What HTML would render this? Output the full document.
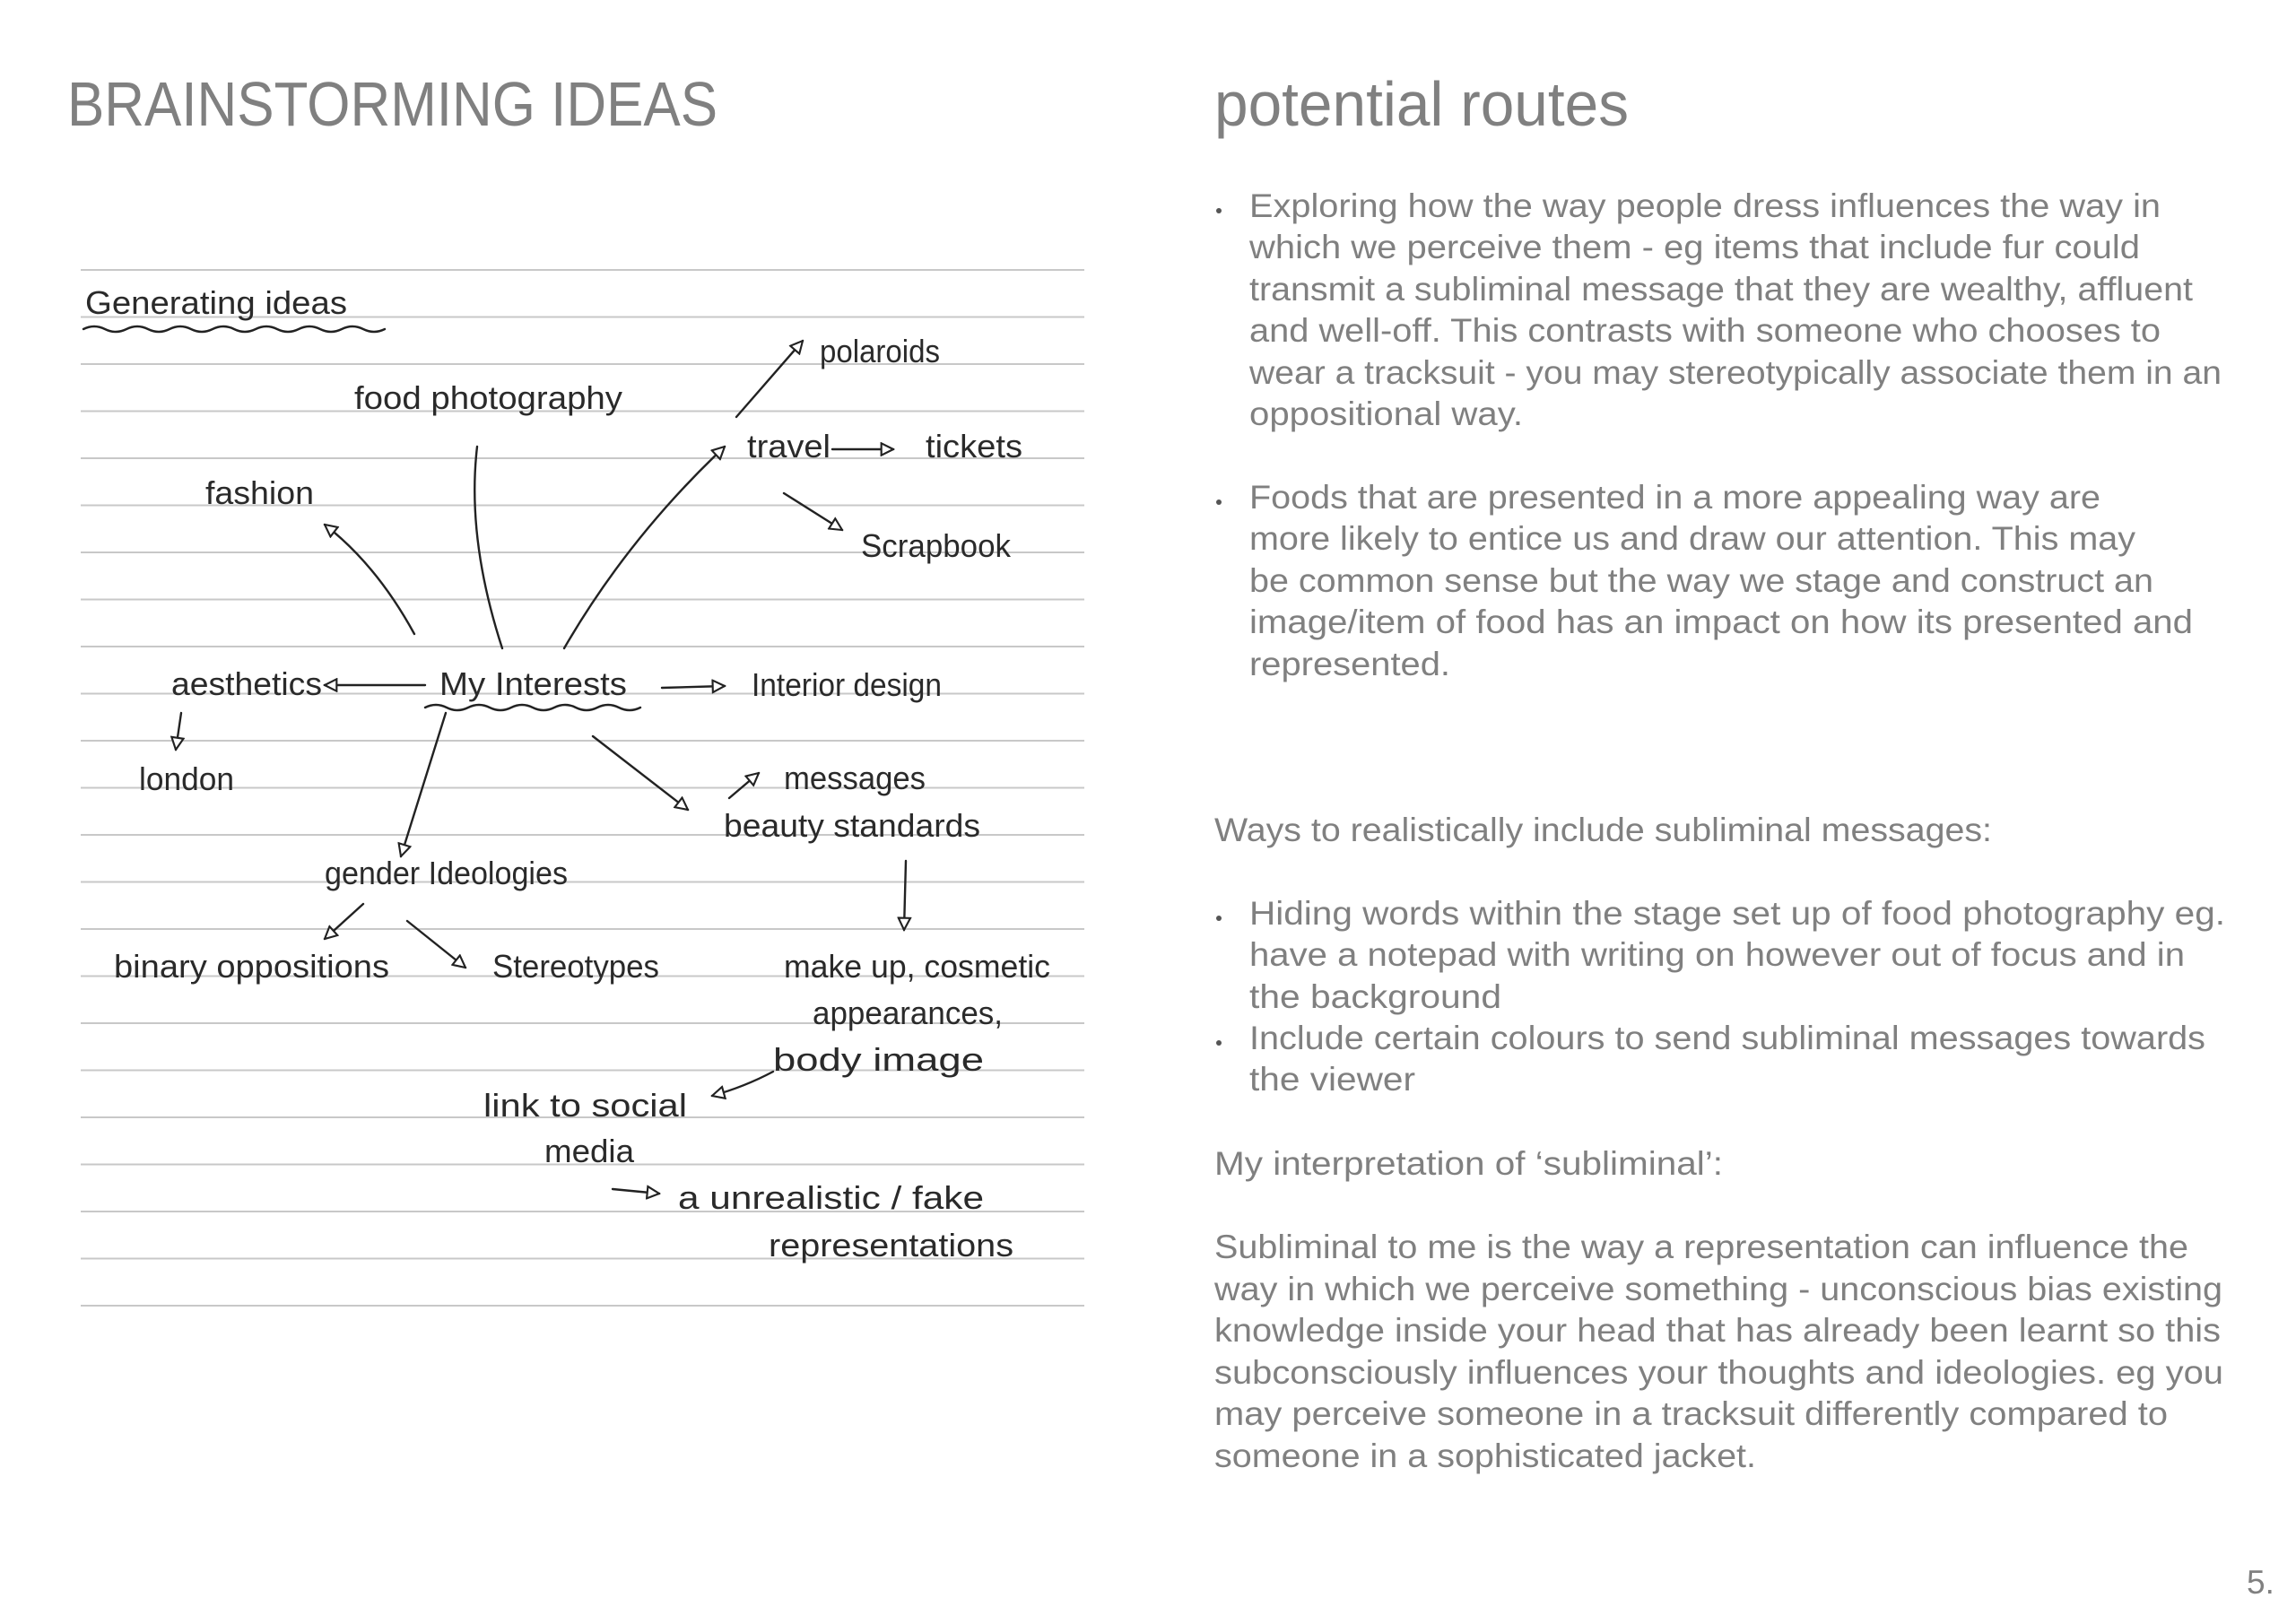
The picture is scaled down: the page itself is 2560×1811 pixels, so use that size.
<!DOCTYPE html>
<html><head><meta charset="utf-8"><style>
html,body{margin:0;padding:0;background:#fff}
svg{display:block}
.t{font-family:"Liberation Sans",sans-serif;fill:#808080;font-size:37px}
.h{font-family:"Liberation Sans",sans-serif;fill:#808080;font-size:70px}
.w{font-family:"Liberation Sans",sans-serif;fill:#2a2a2a;font-size:36px}
.ln{stroke:#c8c8c8;stroke-width:2}
.a{stroke:#222;stroke-width:2.4;fill:none;stroke-linecap:round}
</style></head><body>
<svg width="2560" height="1811" viewBox="0 0 2560 1811" xmlns="http://www.w3.org/2000/svg">
<defs>
<marker id="m" viewBox="0 0 12 12" refX="11" refY="6" markerWidth="16" markerHeight="16" markerUnits="userSpaceOnUse" orient="auto">
<path d="M1,1 L11,6 L1,11 Z" fill="#fff" stroke="#222" stroke-width="1.6"/>
</marker>
</defs>
<rect width="2560" height="1811" fill="#fff"/>
<text class="h" x="75" y="140" textLength="725" lengthAdjust="spacingAndGlyphs">BRAINSTORMING IDEAS</text>
<text class="h" x="1354" y="140" textLength="462" lengthAdjust="spacingAndGlyphs">potential routes</text>

<g class="ln">
<line x1="90" x2="1209" y1="301" y2="301"/><line x1="90" x2="1209" y1="353.5" y2="353.5"/><line x1="90" x2="1209" y1="406" y2="406"/><line x1="90" x2="1209" y1="458.5" y2="458.5"/><line x1="90" x2="1209" y1="511" y2="511"/><line x1="90" x2="1209" y1="563.5" y2="563.5"/><line x1="90" x2="1209" y1="616" y2="616"/><line x1="90" x2="1209" y1="668.5" y2="668.5"/><line x1="90" x2="1209" y1="721" y2="721"/><line x1="90" x2="1209" y1="773.5" y2="773.5"/><line x1="90" x2="1209" y1="826" y2="826"/><line x1="90" x2="1209" y1="878.5" y2="878.5"/><line x1="90" x2="1209" y1="931" y2="931"/><line x1="90" x2="1209" y1="983.5" y2="983.5"/><line x1="90" x2="1209" y1="1036" y2="1036"/><line x1="90" x2="1209" y1="1088.5" y2="1088.5"/><line x1="90" x2="1209" y1="1141" y2="1141"/><line x1="90" x2="1209" y1="1193.5" y2="1193.5"/><line x1="90" x2="1209" y1="1246" y2="1246"/><line x1="90" x2="1209" y1="1298.5" y2="1298.5"/><line x1="90" x2="1209" y1="1351" y2="1351"/><line x1="90" x2="1209" y1="1403.5" y2="1403.5"/><line x1="90" x2="1209" y1="1456" y2="1456"/>
</g>

<g class="w">
<text x="95" y="350" textLength="292" lengthAdjust="spacingAndGlyphs">Generating ideas</text>
<text x="395" y="456" textLength="299" lengthAdjust="spacingAndGlyphs">food photography</text>
<text x="914" y="404" textLength="134" lengthAdjust="spacingAndGlyphs">polaroids</text>
<text x="833" y="510" textLength="93" lengthAdjust="spacingAndGlyphs">travel</text>
<text x="1032" y="510" textLength="108" lengthAdjust="spacingAndGlyphs">tickets</text>
<text x="229" y="562" textLength="121" lengthAdjust="spacingAndGlyphs">fashion</text>
<text x="960" y="621" textLength="167" lengthAdjust="spacingAndGlyphs">Scrapbook</text>
<text x="191" y="775" textLength="168" lengthAdjust="spacingAndGlyphs">aesthetics</text>
<text x="490" y="775" textLength="209" lengthAdjust="spacingAndGlyphs">My Interests</text>
<text x="838" y="776" textLength="212" lengthAdjust="spacingAndGlyphs">Interior design</text>
<text x="155" y="881" textLength="106" lengthAdjust="spacingAndGlyphs">london</text>
<text x="874" y="880" textLength="158" lengthAdjust="spacingAndGlyphs">messages</text>
<text x="807" y="933" textLength="286" lengthAdjust="spacingAndGlyphs">beauty standards</text>
<text x="362" y="986" textLength="271" lengthAdjust="spacingAndGlyphs">gender Ideologies</text>
<text x="127" y="1090" textLength="307" lengthAdjust="spacingAndGlyphs">binary oppositions</text>
<text x="549" y="1090" textLength="186" lengthAdjust="spacingAndGlyphs">Stereotypes</text>
<text x="874" y="1090" textLength="297" lengthAdjust="spacingAndGlyphs">make up, cosmetic</text>
<text x="906" y="1142" textLength="212" lengthAdjust="spacingAndGlyphs">appearances,</text>
<text x="862" y="1194" textLength="235" lengthAdjust="spacingAndGlyphs">body image</text>
<text x="539" y="1245" textLength="227" lengthAdjust="spacingAndGlyphs">link to social</text>
<text x="607" y="1296" textLength="100" lengthAdjust="spacingAndGlyphs">media</text>
<text x="756" y="1348" textLength="341" lengthAdjust="spacingAndGlyphs">a unrealistic / fake</text>
<text x="857" y="1401" textLength="273" lengthAdjust="spacingAndGlyphs">representations</text>
</g>

<path class="a" d="M93,367 q12,-6 24,0 t24,0 t24,0 t24,0 t24,0 t24,0 t24,0 t24,0 t24,0 t24,0 t24,0 t24,0 t24,0 t24,0"/>
<path class="a" d="M474,789 q12,-6 24,0 t24,0 t24,0 t24,0 t24,0 t24,0 t24,0 t24,0 t24,0 t24,0"/>

<g class="a">
<path d="M462,707 Q420,630 362,585" marker-end="url(#m)"/>
<path d="M560,723 Q520,600 532,498"/>
<path d="M629,723 Q700,600 808,498" marker-end="url(#m)"/>
<path d="M821,465 L895,380" marker-end="url(#m)"/>
<path d="M928,501 L996,501" marker-end="url(#m)"/>
<path d="M874,550 L939,591" marker-end="url(#m)"/>
<path d="M474,764 L362,764" marker-end="url(#m)"/>
<path d="M202,795 L196,836" marker-end="url(#m)"/>
<path d="M738,767 L808,765" marker-end="url(#m)"/>
<path d="M661,821 L767,903" marker-end="url(#m)"/>
<path d="M813,890 L846,862" marker-end="url(#m)"/>
<path d="M497,795 L447,955" marker-end="url(#m)"/>
<path d="M405,1008 L362,1047" marker-end="url(#m)"/>
<path d="M454,1027 L519,1079" marker-end="url(#m)"/>
<path d="M1010,960 L1008,1037" marker-end="url(#m)"/>
<path d="M862,1195 Q830,1212 794,1222" marker-end="url(#m)"/>
<path d="M683,1326 L735,1331" marker-end="url(#m)"/>
</g>

<g class="t">
<circle cx="1359" cy="235" r="3" fill="#555"/>
<text x="1393" y="242" textLength="1016" lengthAdjust="spacingAndGlyphs">Exploring how the way people dress influences the way in</text>
<text x="1393" y="288" textLength="993" lengthAdjust="spacingAndGlyphs">which we perceive them - eg items that include fur could</text>
<text x="1393" y="335" textLength="1052" lengthAdjust="spacingAndGlyphs">transmit a subliminal message that they are wealthy, affluent</text>
<text x="1393" y="381" textLength="1016" lengthAdjust="spacingAndGlyphs">and well-off. This contrasts with someone who chooses to</text>
<text x="1393" y="428" textLength="1084" lengthAdjust="spacingAndGlyphs">wear a tracksuit - you may stereotypically associate them in an</text>
<text x="1393" y="474" textLength="305" lengthAdjust="spacingAndGlyphs">oppositional way.</text>

<circle cx="1359" cy="560" r="3" fill="#555"/>
<text x="1393" y="567" textLength="949" lengthAdjust="spacingAndGlyphs">Foods that are presented in a more appealing way are</text>
<text x="1393" y="613" textLength="988" lengthAdjust="spacingAndGlyphs">more likely to entice us and draw our attention. This may</text>
<text x="1393" y="660" textLength="1008" lengthAdjust="spacingAndGlyphs">be common sense but the way we stage and construct an</text>
<text x="1393" y="706" textLength="1052" lengthAdjust="spacingAndGlyphs">image/item of food has an impact on how its presented and</text>
<text x="1393" y="753" textLength="224" lengthAdjust="spacingAndGlyphs">represented.</text>

<text x="1354" y="938" textLength="867" lengthAdjust="spacingAndGlyphs">Ways to realistically include subliminal messages:</text>

<circle cx="1359" cy="1024" r="3" fill="#555"/>
<text x="1393" y="1031" textLength="1088" lengthAdjust="spacingAndGlyphs">Hiding words within the stage set up of food photography eg.</text>
<text x="1393" y="1077" textLength="1043" lengthAdjust="spacingAndGlyphs">have a notepad with writing on however out of focus and in</text>
<text x="1393" y="1124" textLength="281" lengthAdjust="spacingAndGlyphs">the background</text>
<circle cx="1359" cy="1163" r="3" fill="#555"/>
<text x="1393" y="1170" textLength="1066" lengthAdjust="spacingAndGlyphs">Include certain colours to send subliminal messages towards</text>
<text x="1393" y="1216" textLength="185" lengthAdjust="spacingAndGlyphs">the viewer</text>

<text x="1354" y="1310" textLength="567" lengthAdjust="spacingAndGlyphs">My interpretation of ‘subliminal’:</text>

<text x="1354" y="1403" textLength="1086" lengthAdjust="spacingAndGlyphs">Subliminal to me is the way a representation can influence the</text>
<text x="1354" y="1450" textLength="1124" lengthAdjust="spacingAndGlyphs">way in which we perceive something - unconscious bias existing</text>
<text x="1354" y="1496" textLength="1122" lengthAdjust="spacingAndGlyphs">knowledge inside your head that has already been learnt so this</text>
<text x="1354" y="1543" textLength="1125" lengthAdjust="spacingAndGlyphs">subconsciously influences your thoughts and ideologies. eg you</text>
<text x="1354" y="1589" textLength="1063" lengthAdjust="spacingAndGlyphs">may perceive someone in a tracksuit differently compared to</text>
<text x="1354" y="1636" textLength="604" lengthAdjust="spacingAndGlyphs">someone in a sophisticated jacket.</text>

<text x="2505" y="1777">5.</text>
</g>
</svg>
</body></html>
